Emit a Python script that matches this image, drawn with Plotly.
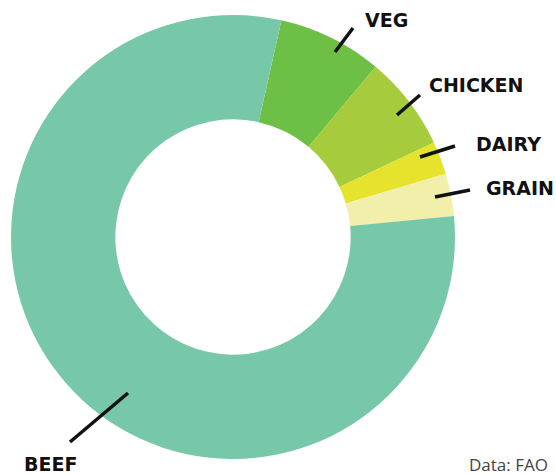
import plotly.graph_objects as go

W, H = 556, 475

categories = ["VEG", "CHICKEN", "DAIRY", "GRAIN", "BEEF"]
values = [7.6, 6.9, 2.4, 3.1, 80.0]
colors = ["#6dbf45", "#a6cb3c", "#e6e32c", "#f1efaa", "#77c8a8"]

def px(x):
    return x / W

def py(y):
    return 1 - y / H

fig = go.Figure(go.Pie(
    labels=categories,
    values=values,
    sort=False,
    direction="clockwise",
    rotation=12.6,
    hole=0.53,
    marker=dict(colors=colors, line=dict(width=0)),
    textinfo="none",
    hoverinfo="label+percent",
    showlegend=False,
    domain=dict(x=[px(11), px(455)], y=[py(459), py(15)]),
))

# label text positions (pixel centres) and leader lines (pixel endpoints)
label_pos = {
    "VEG": (386, 20),
    "CHICKEN": (476, 85),
    "DAIRY": (508, 144),
    "GRAIN": (520, 188),
    "BEEF": (50, 464),
}
leaders = {
    "VEG": ((353, 28), (335, 52)),
    "CHICKEN": ((420, 95), (397, 115)),
    "DAIRY": ((455, 146), (420, 157)),
    "GRAIN": ((470, 190), (435, 197)),
    "BEEF": ((70, 442), (128, 393)),
}

annotations = []
shapes = []
for name in categories:
    x, y = label_pos[name]
    annotations.append(dict(
        text=name, x=px(x), y=py(y), xref="paper", yref="paper",
        xanchor="center", yanchor="middle", showarrow=False,
        font=dict(family="DejaVu Sans", size=19, color="#111111", weight="bold"),
    ))
    (x0, y0), (x1, y1) = leaders[name]
    shapes.append(dict(
        type="line", xref="paper", yref="paper",
        x0=px(x0), y0=py(y0), x1=px(x1), y1=py(y1),
        line=dict(color="#111111", width=3.5),
    ))

annotations.append(dict(
    text="Data: FAO", x=px(550), y=py(464), xref="paper", yref="paper",
    xanchor="right", yanchor="middle", showarrow=False,
    font=dict(family="Open Sans", size=17, color="#444444"),
))

fig.update_layout(
    width=W, height=H,
    margin=dict(l=0, r=0, t=0, b=0),
    paper_bgcolor="white",
    plot_bgcolor="white",
    annotations=annotations,
    shapes=shapes,
)

fig.write_html(
    "out.html",
    config={"displayModeBar": False},
    post_script="document.body.style.margin='0';document.body.style.padding='0';",
)
